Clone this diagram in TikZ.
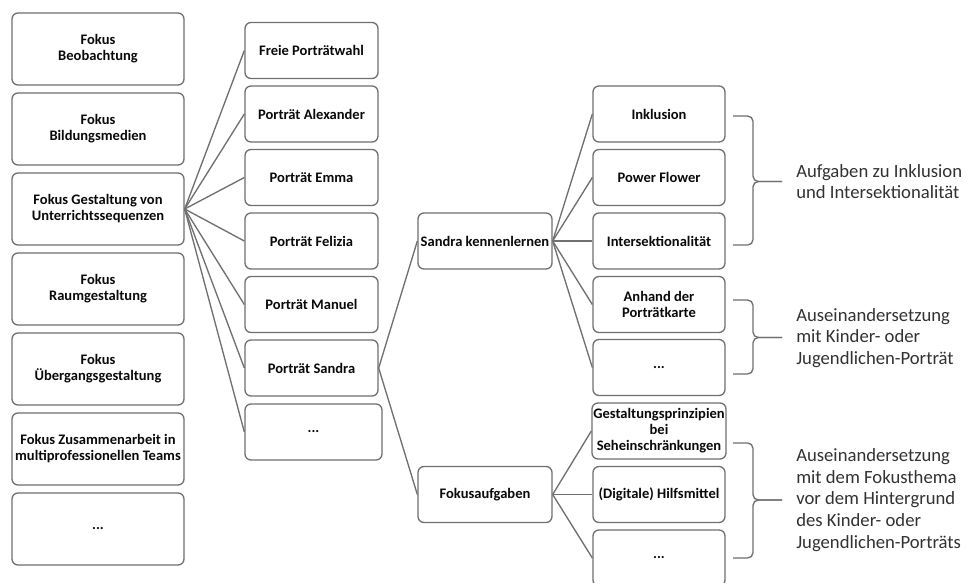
\documentclass[tikz,border=0pt]{standalone}
\usepackage{fontspec}
\setmainfont{Carlito}
\definecolor{rahmen}{RGB}{112,112,112}
\definecolor{schrift}{RGB}{10,10,10}
\definecolor{notiz}{RGB}{50,50,50}
\tikzset{
  kasten/.style={draw=rahmen, line width=1pt, rounded corners=4.5pt, fill=white,
    align=center, text=schrift, inner sep=1pt,
    font=\bfseries\fontsize{10.9}{12}\selectfont},
  fokus/.style={kasten, minimum width=129pt, minimum height=54pt},
  portraet/.style={kasten, minimum width=99.75pt, minimum height=42pt},
  aufgabe/.style={kasten, minimum width=99pt, minimum height=42pt},
  ast/.style={draw=rahmen, line width=1pt},
  klammer/.style={draw=rahmen, line width=1pt, rounded corners=4pt},
  notiztext/.style={anchor=west, align=left, text=notiz, inner sep=0pt,
    font=\fontsize{14}{16.2}\selectfont}
}
\begin{document}
\begin{tikzpicture}[x=0.75pt, y=-0.75pt]
   \useasboundingbox[fill=white] (0,0) rectangle (966,582);
   % linke Spalte
   \node[fokus] (beob) at (98,49) {Fokus\\Beobachtung};
   \node[fokus] (bild) at (98,129) {Fokus\\Bildungsmedien};
   \node[fokus] (gest) at (98,209) {Fokus Gestaltung von\\Unterrichtssequenzen};
   \node[fokus] (raum) at (98,289) {Fokus\\Raumgestaltung};
   \node[fokus] (uebg) at (98,369) {Fokus\\Übergangsgestaltung};
   \node[fokus] (team) at (98,449) {Fokus Zusammenarbeit in\\multiprofessionellen Teams};
   \node[fokus] (fmehr) at (98,529) {...};
   % Porträts
   \node[portraet] (frei) at (311.5,50.5) {Freie Porträtwahl};
   \node[portraet] (alex) at (311.5,114) {Porträt Alexander};
   \node[portraet] (emma) at (311.5,177.5) {Porträt Emma};
   \node[portraet] (feli) at (311.5,241) {Porträt Felizia};
   \node[portraet] (manu) at (311.5,304.5) {Porträt Manuel};
   \node[portraet] (sand) at (311.5,368) {Porträt Sandra};
   \node[portraet, minimum width=102.75pt] (pmehr) at (313.5,432) {...};
   \foreach \p in {frei,alex,emma,feli,manu,sand,pmehr}
      \draw[ast] (gest.east) -- (\p.west);
   % Sandra
   \node[aufgabe, minimum width=100.5pt] (kennen) at (485,241) {Sandra kennenlernen};
   \node[aufgabe, minimum width=100.5pt] (faufg) at (485,494.5) {Fokusaufgaben};
   \draw[ast] (sand.east) -- (kennen.west);
   \draw[ast] (sand.east) -- (faufg.west);
   % Aufgaben
   \node[aufgabe] (inkl) at (659,114) {Inklusion};
   \node[aufgabe] (power) at (659,177.5) {Power Flower};
   \node[aufgabe] (inter) at (659,241) {Intersektionalität};
   \node[aufgabe] (karte) at (659,304.5) {Anhand der\\Porträtkarte};
   \node[aufgabe] (kmehr) at (659,367.5) {...};
   \node[aufgabe] (prinz) at (659,431) {Gestaltungsprinzipien\\bei\\Seheinschränkungen};
   \node[aufgabe] (hilf) at (659,494.5) {(Digitale) Hilfsmittel};
   \node[aufgabe] (amehr) at (659,558) {...};
   \foreach \a in {inkl,power,inter,karte,kmehr}
      \draw[ast] (kennen.east) -- (\a.west);
   \foreach \a in {prinz,hilf,amehr}
      \draw[ast] (faufg.east) -- (\a.west);
   % Klammern
   \draw[klammer] (733,116) -- (753,116) -- (753,181.5) -- (782,181.5);
   \draw[klammer] (733,245) -- (753,245) -- (753,181.5) -- (782,181.5);
   \draw[klammer] (733,300) -- (753,300) -- (753,337.5) -- (782,337.5);
   \draw[klammer] (733,374) -- (753,374) -- (753,337.5) -- (782,337.5);
   \draw[klammer] (733,443) -- (753,443) -- (753,500) -- (782,500);
   \draw[klammer] (733,558) -- (753,558) -- (753,500) -- (782,500);
   \node[notiztext] (n1) at (796,181.5) {Aufgaben zu Inklusion\\und Intersektionalität};
   \node[notiztext] (n2) at (796,338) {Auseinandersetzung\\mit Kinder- oder\\Jugendlichen-Porträt};
   \node[notiztext] (n3) at (796,500) {Auseinandersetzung\\mit dem Fokusthema\\vor dem Hintergrund\\des Kinder- oder\\Jugendlichen-Porträts};
\end{tikzpicture}
\end{document}
